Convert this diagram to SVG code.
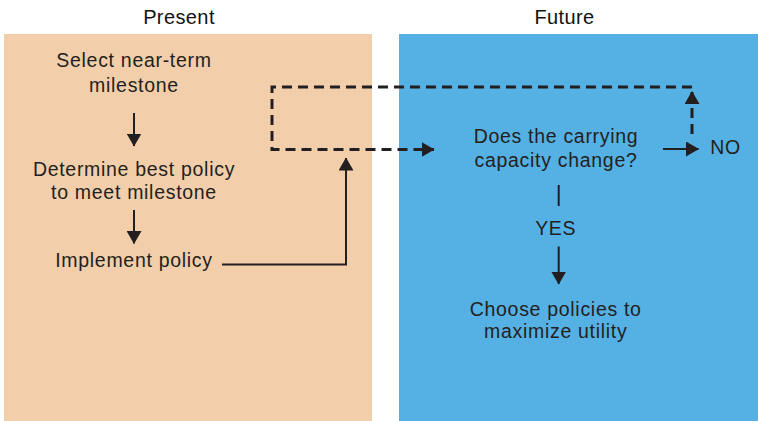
<svg xmlns="http://www.w3.org/2000/svg" width="758" height="421" viewBox="0 0 758 421">
<style>
  text { font-family: "Liberation Sans", Arial, sans-serif; font-size: 19.5px; fill: #231F20; text-anchor: middle; letter-spacing: 0.7px; }
  .title { font-size: 20px; fill: #111; letter-spacing: 0.4px; }
  .solid { fill: none; stroke: #231F20; stroke-width: 2; }
  .dash { fill: none; stroke: #231F20; stroke-width: 3; stroke-dasharray: 10 6; }
</style>
<defs>
  <marker id="ah" markerUnits="userSpaceOnUse" markerWidth="13" markerHeight="15" viewBox="0 0 13 15" refX="12.5" refY="7.5" orient="auto">
    <path d="M0,0 L13,7.5 L0,15 z" fill="#231F20"/>
  </marker>
</defs>
<g id="panels">
  <rect id="present-panel" x="4" y="34" width="368" height="387" fill="#F2CEAA"/>
  <rect id="future-panel" x="399" y="34" width="359" height="387" fill="#55B0E3"/>
  <text class="title" x="179" y="24">Present</text>
  <text class="title" x="564.5" y="24">Future</text>
</g>
<g id="connectors">
  <line class="solid" x1="134" y1="113" x2="134" y2="146" marker-end="url(#ah)"/>
  <line class="solid" x1="134" y1="210" x2="134" y2="243.5" marker-end="url(#ah)"/>
  <polyline class="solid" points="222,264.5 346,264.5 346,158" marker-end="url(#ah)"/>
  <polyline class="dash" points="692,87 272,87 272,149.5 434,149.5" marker-end="url(#ah)"/>
  <line class="dash" x1="692" y1="134" x2="692" y2="91.5" stroke-dasharray="11 6" marker-end="url(#ah)"/>
  <line class="solid" x1="663" y1="149" x2="698.5" y2="149" marker-end="url(#ah)"/>
  <line class="solid" x1="558.7" y1="185" x2="558.7" y2="206" stroke-width="2.5"/>
  <line class="solid" x1="558.7" y1="246.5" x2="558.7" y2="284" marker-end="url(#ah)"/>
</g>
<g id="node-select">
  <text x="134" y="66.5">Select near-term</text>
  <text x="134" y="92.3">milestone</text>
</g>
<g id="node-determine">
  <text x="134" y="175.7">Determine best policy</text>
  <text x="134" y="199">to meet milestone</text>
</g>
<g id="node-implement">
  <text x="134" y="266.5">Implement policy</text>
</g>
<g id="node-question">
  <text x="556" y="142.7">Does the carrying</text>
  <text x="556" y="166.7">capacity change?</text>
</g>
<g id="node-no">
  <text x="725.5" y="154">NO</text>
</g>
<g id="node-yes">
  <text x="555.7" y="235">YES</text>
</g>
<g id="node-choose">
  <text x="555.7" y="315.7">Choose policies to</text>
  <text x="555.7" y="338.3">maximize utility</text>
</g>
</svg>
